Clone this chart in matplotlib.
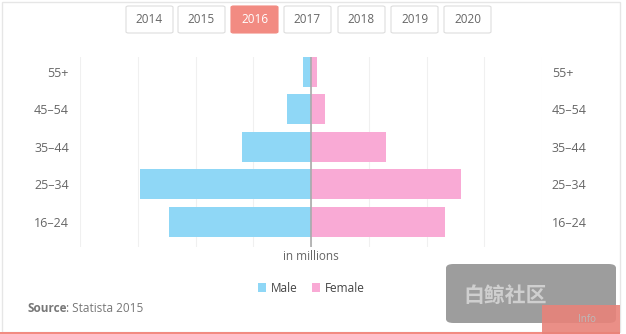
import numpy as np
import matplotlib.pyplot as plt
from matplotlib.patches import FancyBboxPatch, Rectangle

plt.rcParams['font.family'] = ['Open Sans', 'Noto Sans CJK SC', 'DejaVu Sans']

ages = ['16–24', '25–34', '35–44', '45–54', '55+']
male = [2.46, 2.96, 1.2, 0.42, 0.14]
female = [2.32, 2.6, 1.3, 0.24, 0.1]
years = ['2014', '2015', '2016', '2017', '2018', '2019', '2020']
selected = '2016'

W, H = 626, 334
male_c = '#8fd7f6'
female_c = '#f9aad5'
text_c = '#666666'

fig = plt.figure(figsize=(W / 100, H / 100), dpi=100)

def fx(px):
    return px / W

def fy(py):
    return 1 - py / H

# card frame
fig.patches.append(Rectangle((fx(2), fy(332)), fx(618), 330 / H, transform=fig.transFigure,
                             facecolor='white', edgecolor='#e6e6e6', lw=1, zorder=-5))
fig.patches.append(Rectangle((0, 0), fx(620), 2.5 / H, transform=fig.transFigure,
                             facecolor='#f28b82', edgecolor='none', zorder=1))

# year buttons
bx = [126, 178, 231, 284, 338, 391, 444]
for x0, yr in zip(bx, years):
    sel = yr == selected
    fig.patches.append(FancyBboxPatch((fx(x0), fy(33)), fx(47), 27 / H,
                                      boxstyle='round,pad=0,rounding_size=0.004',
                                      transform=fig.transFigure,
                                      facecolor='#f28b82' if sel else 'white',
                                      edgecolor='#f28b82' if sel else '#dddddd', lw=0.8))
    fig.text(fx(x0 + 23.5), fy(19.5), yr, ha='center', va='center', fontsize=8.5,
             color='white' if sel else '#666666')

ax = fig.add_axes([fx(80), fy(247), fx(462), 190 / H])
ax.patch.set_alpha(0)
y = np.arange(len(ages))
ax.barh(y, [-m for m in male], height=0.8, color=male_c, label='Male', zorder=2)
ax.barh(y, female, height=0.8, color=female_c, label='Female', zorder=2)
ax.set_xlim(-4, 4)
ax.set_ylim(-0.667, 4.4)
ax.set_xticks(np.arange(-4, 5))
ax.grid(axis='x', color='#f0f0f0', lw=0.8, zorder=0)
ax.axvline(0, color='#aaaaaa', lw=1.2, zorder=3)
for s in ax.spines.values():
    s.set_visible(False)
ax.tick_params(length=0, labelbottom=False)
ax.set_yticks(y)
ax.set_yticklabels(ages, fontsize=9, color=text_c)
ax.tick_params(axis='y', pad=8)
ax2 = ax.twinx()
ax2.set_ylim(ax.get_ylim())
ax2.set_yticks(y)
ax2.set_yticklabels(ages, fontsize=9, color=text_c)
ax2.tick_params(length=0, pad=7)
for s in ax2.spines.values():
    s.set_visible(False)

fig.text(fx(311), fy(256), 'in millions', ha='center', va='center', fontsize=8.5, color=text_c)
fig.legend(loc='center', bbox_to_anchor=(fx(311), fy(288)), ncol=2, frameon=False,
           fontsize=8.5, handlelength=0.7, handleheight=0.7, columnspacing=1.2,
           handletextpad=0.4, labelcolor='#444444')
fig.text(fx(28), fy(308), 'Source', fontweight='bold', ha='left', va='center',
         fontsize=8.5, color='#777777')
fig.text(fx(66), fy(308), ': Statista 2015', ha='left', va='center', fontsize=8.5, color='#777777')

# watermark overlay
fig.patches.append(FancyBboxPatch((fx(446), fy(323)), fx(170), 59 / H,
                                  boxstyle='round,pad=0,rounding_size=0.012',
                                  transform=fig.transFigure, facecolor='#8c8c8c',
                                  edgecolor='none', alpha=0.85, zorder=5))
fig.patches.append(Rectangle((fx(542), 0), fx(78), 29 / H, transform=fig.transFigure,
                             facecolor='#e8837a', edgecolor='none', alpha=0.9, zorder=6))
fig.text(fx(505), fy(297), '白鲸社区', ha='center', va='center', fontsize=15,
         fontweight='bold', color='#cfcfcf', zorder=7)
fig.text(fx(587), fy(320), 'Info', ha='center', va='center', fontsize=7,
         color='#bbbbbb', zorder=7)

fig.savefig('out.png', dpi=100)
